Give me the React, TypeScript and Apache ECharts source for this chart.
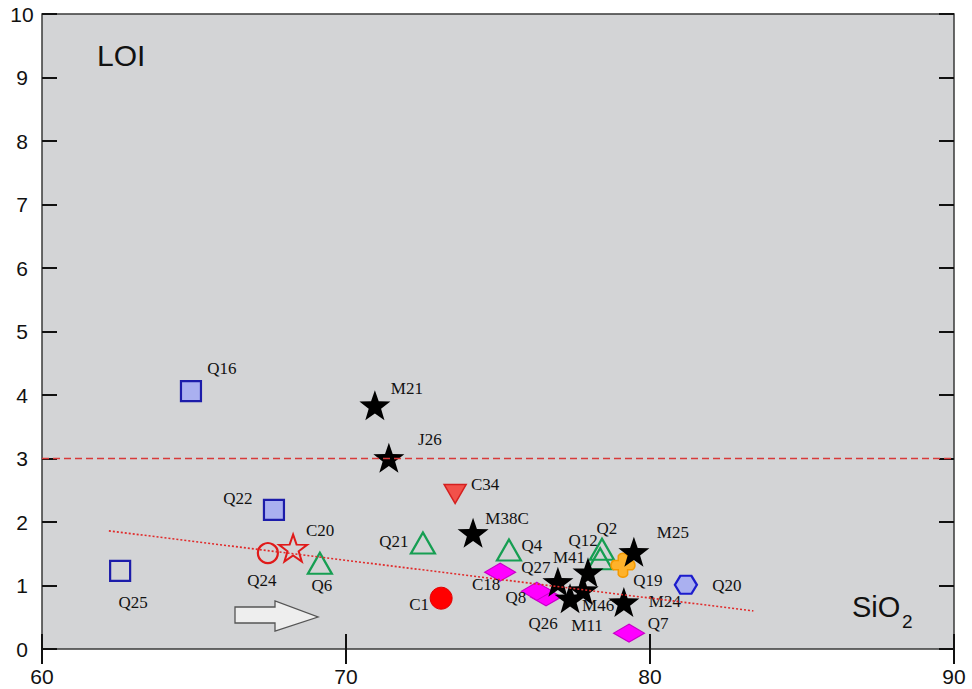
import React, { useEffect, useRef } from "react";
import * as echarts from "echarts";

// ---- data ----
const xTicks = [60, 70, 80, 90];
const yTicks = [0, 1, 2, 3, 4, 5, 6, 7, 8, 9, 10];

const starNames = ["M21", "J26", "M38C", "M25", "M41", "Q27", "M11", "M46", "M24"];
const starX = [70.95, 71.41, 74.18, 79.47, 77.96, 76.97, 77.37, 77.8, 79.14];
const starY = [3.84, 3.01, 1.83, 1.53, 1.21, 1.06, 0.8, 0.93, 0.74];

const filledSquareNames = ["Q16", "Q22"];
const filledSquareX = [64.9, 67.63];
const filledSquareY = [4.06, 2.19];

const openSquareNames = ["Q25"];
const openSquareX = [62.57];
const openSquareY = [1.23];

const triangleNames = ["Q6", "Q21", "Q4", "Q12", "Q2"];
const triangleX = [69.14, 72.53, 75.36, 78.36, 78.42];
const triangleY = [1.35, 1.67, 1.56, 1.42, 1.57];

const downTriNames = ["C34"];
const downTriX = [73.59];
const downTriY = [2.44];

const openStarNames = ["C20"];
const openStarX = [68.26];
const openStarY = [1.59];

const openCircleNames = ["Q24"];
const openCircleX = [67.43];
const openCircleY = [1.51];

const filledCircleNames = ["C1"];
const filledCircleX = [73.13];
const filledCircleY = [0.8];

const diamondNames = ["C18", "Q26", "Q8", "Q7"];
const diamondX = [75.07, 76.58, 76.28, 79.31];
const diamondY = [1.21, 0.82, 0.91, 0.25];

const flowerNames = ["Q19"];
const flowerX = [79.11];
const flowerY = [1.32];

const hexNames = ["Q20"];
const hexX = [81.18];
const hexY = [1.01];

const trendX = [62.2, 83.4];
const trendY = [1.86, 0.6];

const limitY = 3;

// ---- label placement (pixel offsets from marker centre) ----
const labelOffsets: Record<string, [number, number]> = {
  Q16: [31, -23], M21: [32, -17], J26: [41, -18], C34: [30, -10], Q22: [-36, -11],
  C20: [27, -18], Q24: [-6, 27], Q6: [2, 22], Q25: [13, 32], Q21: [-29, -1],
  M38C: [34, -14], Q4: [23, -4], C18: [-14, 12], C1: [-22, 6], Q2: [5, -21],
  Q12: [-17, -18], M25: [39, -19], Q19: [25, 15], Q20: [41, 1], M41: [-19, -15],
  Q27: [-22, -14], Q8: [-21, 6], Q26: [-3, 27], M11: [17, 27], M46: [15, 16],
  M24: [41, -1], Q7: [29, -10],
};

const STAR = "path://M0,-10 L2.35,-3.24 L9.51,-3.09 L3.8,1.24 L5.88,8.09 L0,4 L-5.88,8.09 L-3.8,1.24 L-9.51,-3.09 L-2.35,-3.24 Z";
const HEX = "path://M-10,0 L-5,-8 L5,-8 L10,0 L5,8 L-5,8 Z";
const FLOWER =
  "path://M-3,-3 L-3,-6 A3.5,3.5 0 0 1 3,-6 L3,-3 L6,-3 A3.5,3.5 0 0 1 6,3 L3,3 L3,6 A3.5,3.5 0 0 1 -3,6 L-3,3 L-6,3 A3.5,3.5 0 0 1 -6,-3 Z";

const serif = "'Liberation Serif', 'Times New Roman', serif";
const sans = "'Liberation Sans', Arial, sans-serif";

function pts(names: string[], xs: number[], ys: number[]) {
  return names.map((n, i) => ({
    name: n,
    value: [xs[i], ys[i]],
    label: { offset: labelOffsets[n] || [0, 0] },
  }));
}

function scatter(names: string[], xs: number[], ys: number[], extra: any) {
  return {
    type: "scatter",
    data: pts(names, xs, ys),
    label: {
      show: true,
      position: "inside",
      formatter: "{b}",
      fontFamily: serif,
      fontSize: 17,
      color: "#111111",
      align: "center",
      verticalAlign: "middle",
    },
    emphasis: { disabled: true },
    ...extra,
    itemStyle: { opacity: 1, ...(extra.itemStyle || {}) },
  };
}

export default function App() {
  const ref = useRef<HTMLDivElement>(null);
  useEffect(() => {
    if (!ref.current) return;
    const chart = echarts.init(ref.current, null, { renderer: "svg" });
    const axisCommon = {
      type: "value",
      axisLine: { show: false },
      splitLine: { show: false },
    };
    const tick = { show: true, inside: true, length: 15, lineStyle: { color: "#111", width: 2 } };
    chart.setOption({
      animation: false,
      backgroundColor: "#ffffff",
      grid: {
        left: 42,
        top: 14,
        right: 18,
        bottom: 40,
        show: true,
        backgroundColor: "#d3d4d6",
        borderColor: "#3a3a3a",
        borderWidth: 1.5,
      },
      xAxis: [
        {
          ...axisCommon,
          min: xTicks[0],
          max: xTicks[xTicks.length - 1],
          interval: 10,
          axisTick: tick,
          axisLabel: { margin: 17, fontFamily: sans, fontSize: 21, color: "#111" },
        },
        {
          ...axisCommon,
          position: "top",
          min: xTicks[0],
          max: xTicks[xTicks.length - 1],
          interval: 10,
          axisTick: tick,
          axisLabel: { show: false },
        },
      ],
      yAxis: [
        {
          ...axisCommon,
          min: yTicks[0],
          max: yTicks[yTicks.length - 1],
          interval: 1,
          axisTick: tick,
          axisLabel: { margin: 20, align: "center", fontFamily: sans, fontSize: 21, color: "#111" },
        },
        {
          ...axisCommon,
          position: "right",
          min: yTicks[0],
          max: yTicks[yTicks.length - 1],
          interval: 1,
          axisTick: tick,
          axisLabel: { show: false },
        },
      ],
      series: [
        {
          type: "line",
          data: [
            [xTicks[0], limitY],
            [xTicks[xTicks.length - 1], limitY],
          ],
          symbol: "none",
          lineStyle: { color: "#d83a3a", width: 1.3, type: [7, 4] },
          silent: true,
        },
        {
          type: "line",
          data: trendX.map((x, i) => [x, trendY[i]]),
          symbol: "none",
          lineStyle: { color: "#e02a2a", width: 1.6, type: [2, 2] },
          silent: true,
        },
        scatter(filledSquareNames, filledSquareX, filledSquareY, {
          symbol: "rect",
          symbolSize: 20,
          itemStyle: { color: "#aab0f0", borderColor: "#1c1caa", borderWidth: 2.2 },
        }),
        scatter(openSquareNames, openSquareX, openSquareY, {
          symbol: "rect",
          symbolSize: 20,
          itemStyle: { color: "rgba(0,0,0,0)", borderColor: "#1c1caa", borderWidth: 2.2 },
        }),
        scatter(triangleNames, triangleX, triangleY, {
          symbol: "triangle",
          symbolSize: [24, 21],
          itemStyle: { color: "rgba(0,0,0,0)", borderColor: "#169e52", borderWidth: 2.2 },
        }),
        scatter(downTriNames, downTriX, downTriY, {
          symbol: "triangle",
          symbolRotate: 180,
          symbolSize: [22, 19],
          itemStyle: { color: "#f2514a", borderColor: "#d42020", borderWidth: 1.5 },
        }),
        scatter(openStarNames, openStarX, openStarY, {
          symbol: STAR,
          symbolSize: [28, 27],
          itemStyle: { color: "rgba(0,0,0,0)", borderColor: "#e01a1a", borderWidth: 2 },
        }),
        scatter(openCircleNames, openCircleX, openCircleY, {
          symbol: "circle",
          symbolSize: 20,
          itemStyle: { color: "rgba(0,0,0,0)", borderColor: "#e01a1a", borderWidth: 2.2 },
        }),
        scatter(filledCircleNames, filledCircleX, filledCircleY, {
          symbol: "circle",
          symbolSize: 22,
          itemStyle: { color: "#ff0000", borderColor: "#e00000", borderWidth: 1 },
        }),
        scatter(diamondNames, diamondX, diamondY, {
          symbol: "diamond",
          symbolSize: [31, 18],
          itemStyle: { color: "#ff00ff", borderColor: "#c800c8", borderWidth: 1.2 },
        }),
        scatter(flowerNames, flowerX, flowerY, {
          symbol: FLOWER,
          symbolSize: 24,
          itemStyle: { color: "#ffb22a", borderColor: "#f59a00", borderWidth: 1.5 },
        }),
        scatter(hexNames, hexX, hexY, {
          symbol: HEX,
          symbolSize: [22, 18],
          itemStyle: { color: "#aab0f0", borderColor: "#1c1ccc", borderWidth: 2.2 },
        }),
        scatter(starNames, starX, starY, {
          symbol: STAR,
          symbolSize: [31, 30],
          itemStyle: { color: "#000000" },
        }),
      ],
      graphic: [
        {
          type: "text",
          left: 97,
          top: 40,
          style: { text: "LOI", font: `30px ${sans}`, fill: "#111" },
          silent: true,
        },
        {
          type: "text",
          left: 852,
          top: 592,
          style: { text: "SiO", font: `29px ${sans}`, fill: "#111" },
          silent: true,
        },
        {
          type: "text",
          left: 902,
          top: 612,
          style: { text: "2", font: `19px ${sans}`, fill: "#111" },
          silent: true,
        },
        {
          type: "polygon",
          shape: {
            points: [
              [235, 607],
              [275, 607],
              [275, 601],
              [318, 617],
              [275, 631],
              [275, 623],
              [235, 623],
            ],
          },
          style: { fill: "#eeeeee", stroke: "#555555", lineWidth: 1.3 },
          silent: true,
        },
      ],
    });
    return () => chart.dispose();
  }, []);
  return (
    <div
      ref={ref}
      style={{ position: "fixed", left: 0, top: 0, width: 972, height: 689 }}
    />
  );
}
